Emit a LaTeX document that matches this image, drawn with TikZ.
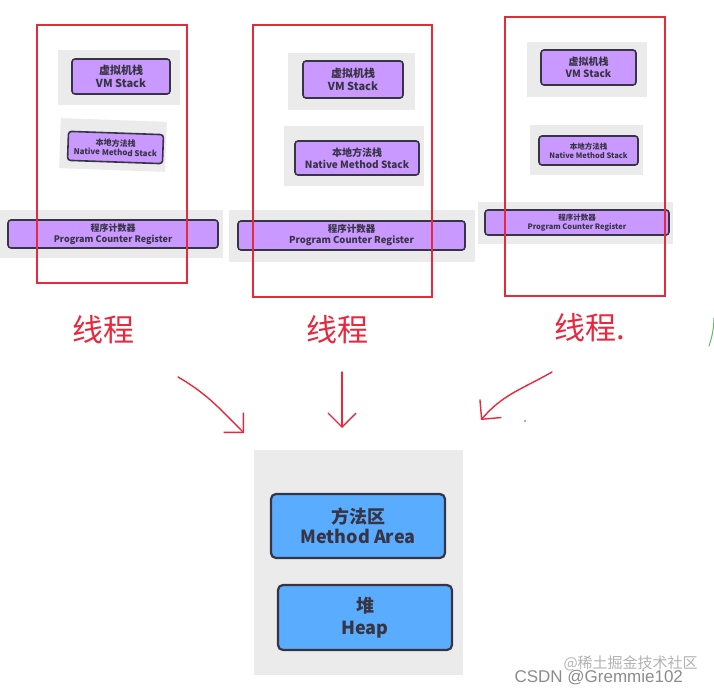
\documentclass[tikz,border=0pt]{standalone}
\usepackage{fontspec}
\usepackage{tikz}
\usetikzlibrary{arrows.meta,positioning,calc}
\newfontfamily\cjk{Noto Sans CJK SC}
\newfontfamily\wmfont{Liberation Sans}
\definecolor{stackfill}{RGB}{201,153,255}
\definecolor{heapfill}{RGB}{90,172,255}
\definecolor{edgegray}{RGB}{55,52,68}
\definecolor{panelgray}{RGB}{235,235,235}
\definecolor{penred}{RGB}{232,40,60}
\tikzset{
  panel/.style={fill=panelgray, draw=none, inner sep=0pt},
  blk/.style={draw=edgegray, line width=1.6pt, rounded corners=3pt, align=center,
              inner sep=0pt, text=edgegray},
  vio/.style={fill=stackfill},
  blu/.style={fill=heapfill, line width=2.2pt, rounded corners=5pt},
  fs/.style 2 args={font=\cjk\bfseries\fontsize{#1}{#2}\selectfont},
  thread/.style={draw=penred, line width=1.6pt},
  hand/.style={draw=penred, line width=1.4pt, line cap=round,
               -{Straight Barb[length=14pt,width=28pt]}},
  pen/.style={text=penred, font=\cjk\fontsize{31}{33}\selectfont},
}
\begin{document}
\begin{tikzpicture}[x=1pt,y=-1pt]
  \useasboundingbox[fill=white] (0,0) rectangle (714,692);
  % first thread
  \node[panel,minimum width=122,minimum height=55] (vmbg1) at (119,77.5) {};
  \node[blk,vio,fs={11}{12.5},minimum width=98,minimum height=35] (vm1) at (121,76.5) {虚拟机栈\\VM Stack};
  \node[panel,rotate=-2,minimum width=106,minimum height=50] (nsbg1) at (113,145) {};
  \node[blk,vio,rotate=-2,fs={8}{9.5},minimum width=95,minimum height=29] (ns1) at (115.5,147.5) {本地方法栈\\Native Method Stack};
  \node[panel,minimum width=223,minimum height=48] (pcbg1) at (111.5,234) {};
  \node[blk,vio,fs={9}{11},minimum width=210,minimum height=28] (pc1) at (113,234) {程序计数器\\Program Counter Register};
  \draw[thread] (37,25) rectangle (187,283);
  % second thread
  \node[panel,minimum width=127,minimum height=57] (vmbg2) at (351.5,81.5) {};
  \node[blk,vio,fs={11}{13},minimum width=100,minimum height=37] (vm2) at (353,79.5) {虚拟机栈\\VM Stack};
  \node[panel,minimum width=140,minimum height=60] (nsbg2) at (354,156) {};
  \node[blk,vio,fs={10}{11.5},minimum width=124,minimum height=34] (ns2) at (357,158) {本地方法栈\\Native Method Stack};
  \node[panel,minimum width=246,minimum height=52] (pcbg2) at (352,236) {};
  \node[blk,vio,fs={9.5}{11},minimum width=227,minimum height=29] (pc2) at (351.5,235.5) {程序计数器\\Program Counter Register};
  \draw[thread] (253,25) rectangle (432,297);
  % third thread
  \node[panel,minimum width=120,minimum height=55] (vmbg3) at (587,69.5) {};
  \node[blk,vio,fs={10}{11.5},minimum width=95,minimum height=35] (vm3) at (588.5,67.5) {虚拟机栈\\VM Stack};
  \node[panel,minimum width=113,minimum height=50] (nsbg3) at (586.5,150) {};
  \node[blk,vio,fs={7.5}{9},minimum width=99,minimum height=29] (ns3) at (588.5,150.5) {本地方法栈\\Native Method Stack};
  \node[panel,minimum width=195,minimum height=42] (pcbg3) at (575.5,223) {};
  \node[blk,vio,fs={7.5}{9.5},minimum width=184,minimum height=25] (pc3) at (577,222.5) {程序计数器\\Program Counter Register};
  \draw[thread] (505,17) rectangle (665,296);
  % handwritten labels
  \node[pen] (t1) at (103,330) {线程};
  \node[pen] (t2) at (337,330) {线程};
  \node[pen] (t3) at (590,328) {线程.};
  % shared area
  \node[panel,minimum width=209,minimum height=225] (shared) at (358.5,562.5) {};
  \node[blk,blu,fs={18}{20},minimum width=174,minimum height=64] (method) at (358,526) {方法区\\Method Area};
  \node[blk,blu,fs={18}{22},minimum width=174,minimum height=65] (heap) at (365,617.5) {堆\\Heap};
  % arrows
  \coordinate (a1) at (178,377);
  \coordinate (b1) at (244,433);
  \coordinate (a2) at (342,372);
  \coordinate (b2) at (342,428);
  \coordinate (a3) at (552,372);
  \coordinate (b3) at (481,420);
  \draw[hand] (a1) to[out=-30,in=135] (b1);
  \draw[hand] (a2) -- (b2);
  \draw[hand] (a3) to[out=-150,in=50] (b3);
  \fill[penred] (525,421) circle (0.9);
  \draw[green!55!black!60, line width=1pt, line cap=round] (714,318) to[bend left=8] (709,346);
  % watermark
  \node[text=black!30, font=\cjk\fontsize{15}{15}\selectfont, anchor=west] (wm1) at (560,663) {@稀土掘金技术社区};
  \node[text=black!45, font=\wmfont\fontsize{17}{17}\selectfont, anchor=west] (wm2) at (511,678) {CSDN @Gremmie102};
\end{tikzpicture}
\end{document}
